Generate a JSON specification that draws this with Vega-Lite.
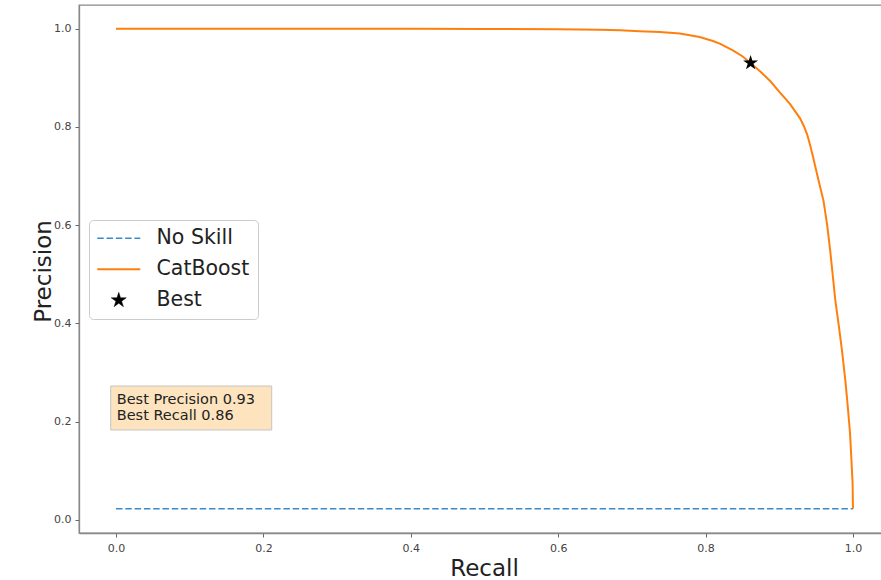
{
  "$schema": "https://vega.github.io/schema/vega-lite/v6.json",
  "width": 803,
  "height": 528,
  "autosize": {"type": "none"},
  "padding": {"left": 79, "top": 5, "right": 0, "bottom": 47},
  "background": "white",
  "config": {"view": {"stroke": "#888", "strokeWidth": 1.3}, "font": "DejaVu Sans"},
  "datasets": {
    "noskill": [
      {"series": "No Skill", "recall": 0.0, "precision": 0.023},
      {"series": "No Skill", "recall": 1.0, "precision": 0.023}
    ],
    "catboost": [
      {"series": "CatBoost", "recall": 0.0, "precision": 1.0},
      {"series": "CatBoost", "recall": 0.1, "precision": 1.0},
      {"series": "CatBoost", "recall": 0.2, "precision": 1.0},
      {"series": "CatBoost", "recall": 0.3, "precision": 1.0},
      {"series": "CatBoost", "recall": 0.4, "precision": 1.0},
      {"series": "CatBoost", "recall": 0.5, "precision": 0.9995},
      {"series": "CatBoost", "recall": 0.6, "precision": 0.999},
      {"series": "CatBoost", "recall": 0.657, "precision": 0.998},
      {"series": "CatBoost", "recall": 0.684, "precision": 0.997},
      {"series": "CatBoost", "recall": 0.71, "precision": 0.995},
      {"series": "CatBoost", "recall": 0.738, "precision": 0.993},
      {"series": "CatBoost", "recall": 0.765, "precision": 0.99},
      {"series": "CatBoost", "recall": 0.792, "precision": 0.983},
      {"series": "CatBoost", "recall": 0.81, "precision": 0.975},
      {"series": "CatBoost", "recall": 0.82, "precision": 0.969},
      {"series": "CatBoost", "recall": 0.837, "precision": 0.956},
      {"series": "CatBoost", "recall": 0.85, "precision": 0.944},
      {"series": "CatBoost", "recall": 0.861, "precision": 0.93},
      {"series": "CatBoost", "recall": 0.875, "precision": 0.912},
      {"series": "CatBoost", "recall": 0.888, "precision": 0.893},
      {"series": "CatBoost", "recall": 0.901, "precision": 0.87},
      {"series": "CatBoost", "recall": 0.915, "precision": 0.846},
      {"series": "CatBoost", "recall": 0.928, "precision": 0.818},
      {"series": "CatBoost", "recall": 0.933, "precision": 0.803},
      {"series": "CatBoost", "recall": 0.938, "precision": 0.784},
      {"series": "CatBoost", "recall": 0.942, "precision": 0.762},
      {"series": "CatBoost", "recall": 0.946, "precision": 0.738},
      {"series": "CatBoost", "recall": 0.953, "precision": 0.693},
      {"series": "CatBoost", "recall": 0.96, "precision": 0.65},
      {"series": "CatBoost", "recall": 0.965, "precision": 0.6},
      {"series": "CatBoost", "recall": 0.969, "precision": 0.55},
      {"series": "CatBoost", "recall": 0.976, "precision": 0.448},
      {"series": "CatBoost", "recall": 0.981, "precision": 0.393},
      {"series": "CatBoost", "recall": 0.985, "precision": 0.346},
      {"series": "CatBoost", "recall": 0.99, "precision": 0.279},
      {"series": "CatBoost", "recall": 0.993, "precision": 0.23},
      {"series": "CatBoost", "recall": 0.996, "precision": 0.177},
      {"series": "CatBoost", "recall": 0.998, "precision": 0.12},
      {"series": "CatBoost", "recall": 0.9995, "precision": 0.075},
      {"series": "CatBoost", "recall": 1.0, "precision": 0.023}
    ],
    "best": [{"series": "Best", "recall": 0.8611, "precision": 0.9303}],
    "box": [{"x1": -0.0072, "x2": 0.2113, "y1": 0.1832, "y2": 0.2727}],
    "notes": [
      {"label": "Best Precision 0.93", "x": 0.001, "y": 0.2367},
      {"label": "Best Recall 0.86", "x": 0.001, "y": 0.2031}
    ]
  },
  "layer": [
    {
      "data": {"name": "box"},
      "mark": {"type": "rect", "fill": "#fde4bf", "stroke": "#c4c4c4", "strokeWidth": 1},
      "encoding": {
        "x": {"field": "x1", "type": "quantitative", "scale": {"domain": [-0.0502, 1.0394], "nice": false, "zero": false},
          "axis": {
            "title": "Recall", "values": [0, 0.2, 0.4, 0.6, 0.8, 1.0], "format": ".1f", "grid": false,
            "domainColor": "#888", "domainWidth": 1.3, "tickColor": "#666", "tickSize": 4,
            "labelFontSize": 11, "labelColor": "#444", "labelPadding": 5, "labelFont": "DejaVu Sans",
            "titleFontSize": 23, "titleFontWeight": "normal", "titleColor": "#222", "titleFont": "DejaVu Sans",
            "titleX": 405, "titleY": 42, "titleBaseline": "alphabetic", "titleAlign": "center"
          }},
        "x2": {"field": "x2"},
        "y": {"field": "y1", "type": "quantitative", "scale": {"domain": [-0.0265, 1.0482], "nice": false, "zero": false},
          "axis": {
            "title": "Precision", "values": [0, 0.2, 0.4, 0.6, 0.8, 1.0], "format": ".1f", "grid": false,
            "domainColor": "#888", "domainWidth": 1.3, "tickColor": "#666", "tickSize": 4,
            "labelFontSize": 11, "labelColor": "#444", "labelPadding": 4, "labelFont": "DejaVu Sans",
            "titleFontSize": 23, "titleFontWeight": "normal", "titleColor": "#222", "titleFont": "DejaVu Sans",
            "titleX": -29, "titleY": 266, "titleAngle": -90, "titleBaseline": "alphabetic", "titleAlign": "center"
          }},
        "y2": {"field": "y2"}
      }
    },
    {
      "data": {"name": "notes"},
      "mark": {"type": "text", "align": "left", "baseline": "alphabetic", "fontSize": 14.5, "font": "DejaVu Sans", "color": "#222"},
      "encoding": {
        "x": {"field": "x", "type": "quantitative"},
        "y": {"field": "y", "type": "quantitative"},
        "text": {"field": "label"}
      }
    },
    {
      "data": {"name": "noskill"},
      "mark": {"type": "line", "strokeWidth": 1.5, "strokeDash": [6.5, 2.8]},
      "encoding": {
        "x": {"field": "recall", "type": "quantitative"},
        "y": {"field": "precision", "type": "quantitative"},
        "color": {
          "field": "series", "type": "nominal",
          "scale": {"domain": ["No Skill", "CatBoost", "Best"], "range": ["#3a8bcc", "#ff7f0e", "#000000"]},
          "legend": {
            "title": null, "orient": "none", "legendX": 10, "legendY": 215,
            "padding": 8, "fillColor": "white", "strokeColor": "#cccccc", "cornerRadius": 4,
            "labelFontSize": 20.5, "labelFont": "DejaVu Sans", "labelColor": "#222", "labelOffset": 27.5,
            "symbolType": "M-2,0L2,0", "symbolSize": 462, "symbolStrokeWidth": 1.5, "symbolOffset": 11.5, "rowPadding": 10,
            "encode": {
              "symbols": {
                "update": {
                  "shape": {"signal": "datum.value === 'Best' ? 'M0,-1L0.2245,-0.309L0.951,-0.309L0.363,0.118L0.588,0.809L0,0.382L-0.588,0.809L-0.363,0.118L-0.951,-0.309L-0.2245,-0.309Z' : 'M-2,0L2,0'"},
                  "size": {"signal": "datum.value === 'Best' ? 250 : 462"},
                  "fill": {"signal": "datum.value === 'Best' ? '#000000' : 'transparent'"},
                  "strokeDash": {"signal": "datum.value === 'No Skill' ? [6.5, 2.8] : [1, 0]"},
                  "strokeWidth": {"signal": "datum.value === 'Best' ? 0.5 : (datum.value === 'CatBoost' ? 2 : 1.5)"}
                }
              }
            }
          }
        }
      }
    },
    {
      "data": {"name": "catboost"},
      "mark": {"type": "line", "strokeWidth": 2},
      "encoding": {
        "x": {"field": "recall", "type": "quantitative"},
        "y": {"field": "precision", "type": "quantitative"},
        "color": {"field": "series", "type": "nominal"}
      }
    },
    {
      "data": {"name": "best"},
      "mark": {"type": "point", "filled": true, "opacity": 1, "size": 250, "shape": "M0,-1L0.2245,-0.309L0.951,-0.309L0.363,0.118L0.588,0.809L0,0.382L-0.588,0.809L-0.363,0.118L-0.951,-0.309L-0.2245,-0.309Z"},
      "encoding": {
        "x": {"field": "recall", "type": "quantitative"},
        "y": {"field": "precision", "type": "quantitative"},
        "color": {"field": "series", "type": "nominal"}
      }
    }
  ]
}
